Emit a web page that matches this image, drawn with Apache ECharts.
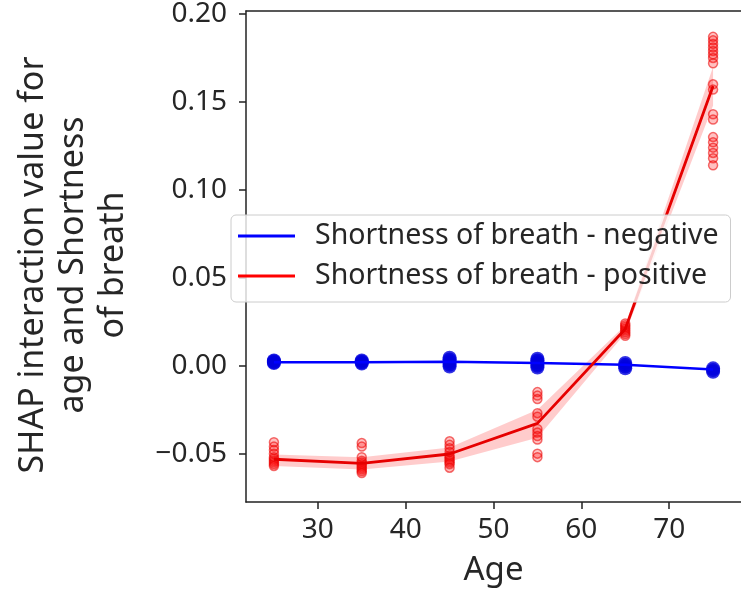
<!DOCTYPE html>
<html lang="en">
<head>
    <meta charset="UTF-8">
    <title>SHAP interaction</title>
    <script src="https://cdn.jsdelivr.net/npm/echarts@6/dist/echarts.min.js"></script>
    <style>
        html, body { margin: 0; padding: 0; background: #fff; }
        #chart { width: 741px; height: 592px; }
    </style>
</head>
<body>
    <div id="chart"></div>

    <script type="text/javascript">
        // ages on the x axis
        var ages = [25, 35, 45, 55, 65, 75];
        var xTicks = [30, 40, 50, 60, 70];
        var yTicks = [-0.05, 0, 0.05, 0.10, 0.15, 0.20];

        // mean lines
        var negMean = [0.002, 0.002, 0.0022, 0.0015, 0.0005, -0.0022];
        var posMean = [-0.0532, -0.0555, -0.0502, -0.0328, 0.0209, 0.159];
        // confidence band of the positive line
        var posLow = [-0.057, -0.059, -0.0545, -0.041, 0.0185, 0.148];
        var posHigh = [-0.0505, -0.052, -0.0465, -0.025, 0.023, 0.170];

        // individual points per age
        var negPoints = [
            [0.0015, 0.002, 0.0025, 0.003],
            [0.0012, 0.0018, 0.0024, 0.003],
            [-0.0005, 0.0005, 0.0015, 0.0025, 0.0035, 0.0045],
            [-0.001, 0, 0.001, 0.002, 0.003, 0.004],
            [-0.0015, -0.0005, 0.0005, 0.0015],
            [-0.0035, -0.0025, -0.0015]
        ];
        var posPoints = [
            [-0.0435, -0.046, -0.048, -0.050, -0.052, -0.053, -0.054, -0.055, -0.056, -0.057],
            [-0.044, -0.046, -0.052, -0.054, -0.055, -0.056, -0.057, -0.058, -0.059, -0.060, -0.061],
            [-0.043, -0.045, -0.047, -0.049, -0.051, -0.052, -0.053, -0.054, -0.055, -0.056, -0.058],
            [-0.015, -0.017, -0.019, -0.027, -0.029, -0.036, -0.038, -0.040, -0.042, -0.050, -0.052],
            [0.017, 0.018, 0.019, 0.020, 0.021, 0.022, 0.023, 0.024],
            [0.187, 0.185, 0.183, 0.181, 0.179, 0.177, 0.175, 0.172, 0.160, 0.157, 0.143, 0.140,
             0.130, 0.127, 0.124, 0.121, 0.118, 0.114]
        ];

        var negName = 'Shortness of breath - negative';
        var posName = 'Shortness of breath - positive';
        var font = 'Noto Sans';
        var ink = '#262626';

        function pairs(ys) {
            return ages.map(function (a, i) { return [a, ys[i]]; });
        }
        function scatterData(groups) {
            var out = [];
            groups.forEach(function (g, i) {
                g.forEach(function (v) { out.push([ages[i], v]); });
            });
            return out;
        }

        var bandData = ages.map(function (a, i) { return [a, posLow[i], posHigh[i]]; });

        // whole band drawn once as a polygon through the axis scales
        function renderBand(params, api) {
            if (params.dataIndex !== 0) return;
            var top = [], bottom = [];
            for (var i = 0; i < bandData.length; i++) {
                top.push(api.coord([bandData[i][0], bandData[i][2]]));
                bottom.unshift(api.coord([bandData[i][0], bandData[i][1]]));
            }
            return {
                type: 'polygon',
                shape: { points: top.concat(bottom) },
                style: { fill: 'rgba(255,0,0,0.2)' },
                silent: true
            };
        }

        var chart = echarts.init(document.getElementById('chart'));
        chart.setOption({
            animation: false,
            grid: { left: 246, right: -5, top: 11, bottom: 88.5 },
            xAxis: [{
                type: 'value',
                min: 21.82, max: 78.18,
                name: 'Age',
                nameLocation: 'middle',
                nameGap: 52,
                nameTextStyle: { fontFamily: font, fontSize: 33, color: ink },
                axisLine: { show: true, onZero: false, lineStyle: { color: '#222', width: 1.5 } },
                axisTick: { show: true, length: 7, customValues: xTicks, lineStyle: { color: '#222', width: 1.5 } },
                axisLabel: { customValues: xTicks, margin: 14, fontFamily: font, fontSize: 28, color: ink },
                splitLine: { show: false }
            }, {
                type: 'value',
                position: 'top',
                min: 21.82, max: 78.18,
                axisLine: { show: true, onZero: false, lineStyle: { color: '#222', width: 1.5 } },
                axisTick: { show: false },
                axisLabel: { show: false },
                splitLine: { show: false }
            }],
            yAxis: {
                type: 'value',
                min: -0.0775, max: 0.2017,
                axisLine: { show: true, onZero: false, lineStyle: { color: '#222', width: 1.5 } },
                axisTick: { show: true, length: 7, customValues: yTicks, lineStyle: { color: '#222', width: 1.5 } },
                axisLabel: {
                    customValues: yTicks, margin: 19, fontFamily: font, fontSize: 28, color: ink,
                    formatter: function (v) { return v.toFixed(2).replace('-', '\u2212'); }
                },
                splitLine: { show: false }
            },
            legend: {
                data: [negName, posName],
                orient: 'vertical',
                left: 231, top: 215,
                padding: [6, 12, 11, 7],
                itemGap: 10,
                itemWidth: 57, itemHeight: 3,
                icon: 'rect',
                backgroundColor: 'rgba(255,255,255,0.8)',
                borderColor: '#cccccc', borderWidth: 1, borderRadius: 5,
                textStyle: { fontFamily: font, fontSize: 28.5, color: ink, lineHeight: 30, padding: [0, 0, 0, 15] }
            },
            graphic: [{
                type: 'text',
                x: 73, y: 265,
                rotation: Math.PI / 2,
                style: {
                    text: 'SHAP interaction value for\nage and Shortness\nof breath',
                    font: '34px "Noto Sans"',
                    fill: ink,
                    align: 'center',
                    verticalAlign: 'middle',
                    lineHeight: 40
                }
            }],
            series: [{
                name: 'band',
                type: 'custom',
                data: bandData,
                encode: { x: 0, y: [1, 2] },
                renderItem: renderBand,
                silent: true,
                z: 1
            }, {
                name: 'pos-points',
                type: 'scatter',
                data: scatterData(posPoints),
                symbol: 'circle',
                symbolSize: 9,
                itemStyle: { color: 'rgba(255,0,0,0.3)', borderColor: 'rgba(235,0,0,0.7)', borderWidth: 1.5 }
            }, {
                name: negName,
                type: 'line',
                data: pairs(negMean),
                symbol: 'none',
                color: 'blue',
                lineStyle: { color: 'blue', width: 2.5 }
            }, {
                name: 'neg-points',
                type: 'scatter',
                data: scatterData(negPoints),
                symbol: 'circle',
                symbolSize: 14,
                itemStyle: { color: '#0000dd' }
            }, {
                name: posName,
                type: 'line',
                data: pairs(posMean),
                symbol: 'none',
                color: 'red',
                lineStyle: { color: '#e60000', width: 2.8 }
            }]
        });
    </script>
</body>
</html>
